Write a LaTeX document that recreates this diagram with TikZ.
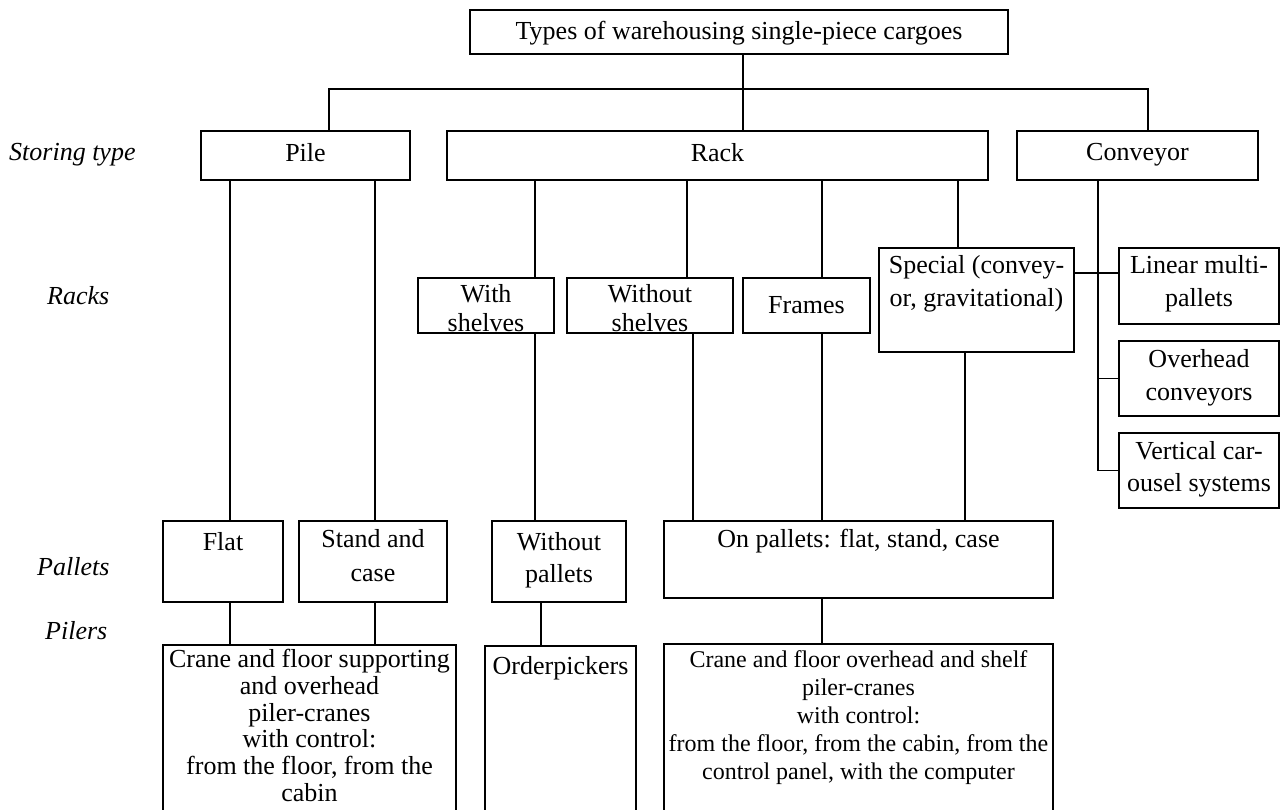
\documentclass[tikz,border=0pt]{standalone}
\usepackage{fontspec}
\setmainfont{Liberation Serif}
\usetikzlibrary{calc}
\begin{document}
\begin{tikzpicture}[x=1pt,y=-1pt,
  box/.style={draw, line width=1.5pt, inner sep=0pt, outer sep=0pt},
  conn/.style={line width=1.1pt},
  bt/.style={anchor=north, inner sep=0pt, align=center, font=\fontsize{26}{29}\selectfont},
  lbl/.style={font=\fontsize{26}{29}\selectfont\itshape, anchor=base west, inner sep=0pt}]
\useasboundingbox (0,0) rectangle (1280,810);

% level labels
\node[lbl] (lstore) at (9,161) {Storing type};
\node[lbl] (lracks) at (47,305) {Racks};
\node[lbl] (lpal) at (37,575) {Pallets};
\node[lbl] (lpil) at (45,639) {Pilers};

% boxes
\node[box, minimum width=538, minimum height=44,
  label={[bt,yshift=-11]north:Types of warehousing single-piece cargoes}] (top) at (739,32) {};
\node[box, minimum width=209, minimum height=49, label={[bt,yshift=-12]north:Pile}] (pile) at (305.5,155.5) {};
\node[box, minimum width=541, minimum height=49, label={[bt,yshift=-12]north:Rack}] (rack) at (717.5,155.5) {};
\node[box, minimum width=241, minimum height=49, label={[bt,yshift=-12]north:Conveyor}] (conv) at (1137.5,155.5) {};

\node[box, minimum width=136, minimum height=55, label={[bt,yshift=-6]north:With\\shelves}] (withsh) at (486,305.5) {};
\node[box, minimum width=166, minimum height=55, label={[bt,yshift=-6]north:Without\\shelves}] (withoutsh) at (650,305.5) {};
\node[box, minimum width=127, minimum height=55, font=\fontsize{26}{29}\selectfont] (frames) at (806.5,305.5) {Frames};
\node[box, minimum width=195, minimum height=104,
  label={[bt,yshift=-7,font=\fontsize{26}{33}\selectfont]north:Special (convey-\\or, gravitational)}] (special) at (976.5,300) {};

\node[box, minimum width=160, minimum height=76,
  label={[bt,yshift=-7,font=\fontsize{26}{33}\selectfont]north:Linear multi-\\pallets}] (linear) at (1199,286) {};
\node[box, minimum width=160, minimum height=75,
  label={[bt,yshift=-8,font=\fontsize{26}{33}\selectfont]north:Overhead\\conveyors}] (overhead) at (1199,378.5) {};
\node[box, minimum width=160, minimum height=75,
  label={[bt,yshift=-8,font=\fontsize{26}{32.5}\selectfont]north:Vertical car-\\ousel systems}] (vertical) at (1199,470.5) {};

\node[box, minimum width=120, minimum height=81, label={[bt,yshift=-11]north:Flat}] (flat) at (223,561.5) {};
\node[box, minimum width=148, minimum height=81,
  label={[bt,yshift=-8,font=\fontsize{26}{34}\selectfont]north:Stand and\\case}] (stand) at (373,561.5) {};
\node[box, minimum width=134, minimum height=81,
  label={[bt,yshift=-11,font=\fontsize{26}{32.5}\selectfont]north:Without\\pallets}] (withoutpal) at (559,561.5) {};
\node[box, minimum width=389, minimum height=77,
  label={[bt,yshift=-8]north:On pallets: flat, stand, case}] (onpal) at (858.5,559.5) {};

\node[box, minimum width=293, minimum height=195,
  label={[bt,yshift=-4,font=\fontsize{26}{26.8}\selectfont]north:Crane and floor supporting\\and overhead\\piler-cranes\\with control:\\from the floor, from the\\cabin}] (crane1) at (309.5,742.5) {};
\node[box, minimum width=151, minimum height=194,
  label={[bt,yshift=-10]north:Orderpickers}] (order) at (560.5,743) {};
\node[box, minimum width=389, minimum height=196,
  label={[bt,yshift=-6,font=\fontsize{24}{28.2}\selectfont]north:Crane and floor overhead and shelf\\piler-cranes\\with control:\\from the floor, from the cabin, from the\\control panel, with the computer}] (crane2) at (858.5,742) {};

% helper coordinates for connector positions
\coordinate (jt) at (743,89);
\coordinate (jp) at (329,89);
\coordinate (jc) at (1148,89);
\coordinate (xf) at (230,0);
\coordinate (xs) at (375,0);
\coordinate (xw) at (535,0);
\coordinate (xwo) at (687,0);
\coordinate (xwo2) at (693,0);
\coordinate (xfr) at (822,0);
\coordinate (xsp) at (958,0);
\coordinate (xsp2) at (965,0);
\coordinate (xcv) at (1098,0);
\coordinate (xwp) at (541,0);
\coordinate (ys) at (0,273);

% connectors
\draw[conn] (top.south -| jt) -- (rack.north -| jt);
\draw[conn] (pile.north -| jp) -- (jp) -- (jc) -- (conv.north -| jc);

\draw[conn] (pile.south -| xf) -- (flat.north -| xf);
\draw[conn] (pile.south -| xs) -- (stand.north -| xs);

\draw[conn] (rack.south -| xw) -- (withsh.north -| xw);
\draw[conn] (rack.south -| xwo) -- (withoutsh.north -| xwo);
\draw[conn] (rack.south -| xfr) -- (frames.north -| xfr);
\draw[conn] (rack.south -| xsp) -- (special.north -| xsp);

\draw[conn] (conv.south -| xcv) |- (vertical.west);
\draw[conn] (xcv |- overhead.west) -- (overhead.west);
\draw[conn] (special.east |- ys) -- (linear.west |- ys);

\draw[conn] (withsh.south -| xw) -- (withoutpal.north -| xw);
\draw[conn] (withoutsh.south -| xwo2) -- (onpal.north -| xwo2);
\draw[conn] (frames.south -| xfr) -- (onpal.north -| xfr);
\draw[conn] (special.south -| xsp2) -- (onpal.north -| xsp2);

\draw[conn] (flat.south -| xf) -- (crane1.north -| xf);
\draw[conn] (stand.south -| xs) -- (crane1.north -| xs);
\draw[conn] (withoutpal.south -| xwp) -- (order.north -| xwp);
\draw[conn] (onpal.south -| xfr) -- (crane2.north -| xfr);
\end{tikzpicture}
\end{document}
